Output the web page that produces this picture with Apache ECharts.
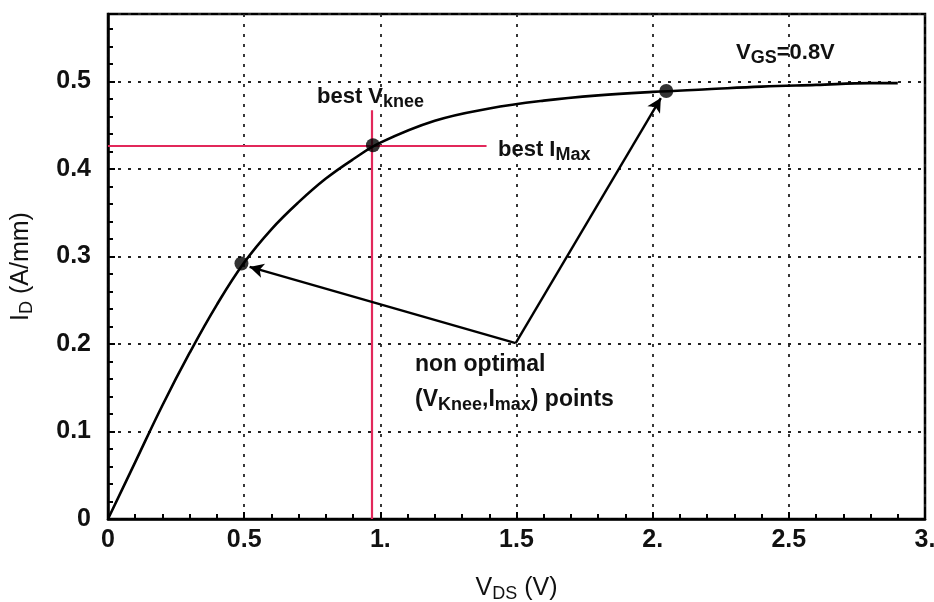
<!DOCTYPE html>
<html>
<head>
<meta charset="utf-8">
<script src="https://cdn.jsdelivr.net/npm/echarts@6/dist/echarts.min.js"></script>
<style>html,body{margin:0;padding:0;background:#fff;}#c{width:934px;height:602px;}</style>
</head>
<body>
<div id="c"></div>
<script>
// ---- data ----
var vds = [0, 0.1, 0.2, 0.3, 0.4, 0.5, 0.6, 0.7, 0.8, 0.9, 1.0, 1.2, 1.4, 1.6, 1.8, 2.0, 2.2, 2.4, 2.6, 2.8, 2.9];
var idCurve = [0, 0.065, 0.13, 0.19, 0.245, 0.293, 0.331, 0.362, 0.389, 0.411, 0.430, 0.455, 0.469, 0.478, 0.484, 0.488, 0.491, 0.494, 0.496, 0.498, 0.498];
var pointX = [0.49, 0.973, 2.05];
var pointY = [0.292, 0.427, 0.489];
var bestV = 0.97, bestVTop = 0.467;
var bestI = 0.427, bestIEnd = 1.39;
var arrowFrom = [1.497, 0.201];
var arrowTo = [[0.52, 0.288], [2.03, 0.481]];
var xTickLabels = {'0': '0', '0.5': '0.5', '1': '1.', '1.5': '1.5', '2': '2.', '2.5': '2.5', '3': '3.'};
var yTickLabels = ['0', '0.1', '0.2', '0.3', '0.4', '0.5'];

var chart = echarts.init(document.getElementById('c'));
var FF = '"Liberation Sans", Arial, sans-serif';
var gridLine = {show: true, lineStyle: {color: '#222', width: 1.8, type: [3, 7]}};

var curveData = vds.map(function (v, i) { return [v, idCurve[i]]; });
var ptsData = pointX.map(function (v, i) { return [v, pointY[i]]; });

function annRich(main, sub) {
  return {
    m: {fontFamily: FF, fontWeight: 'bold', fontSize: main, fill: '#111', lineHeight: 28, verticalAlign: 'middle'},
    s: {fontFamily: FF, fontWeight: 'bold', fontSize: sub, fill: '#111', lineHeight: 28, verticalAlign: 'bottom', padding: [9, 0, 0, 0]}
  };
}

chart.setOption({
  animation: false,
  backgroundColor: '#fff',
  grid: {left: 108, right: 9, top: 14, bottom: 83, outerBoundsMode: 'none', containLabel: false,
    show: true, borderColor: '#000', borderWidth: 2.5, backgroundColor: 'transparent'},
  xAxis: {
    type: 'value', min: 0, max: 3, interval: 0.5,
    axisLine: {lineStyle: {color: '#000', width: 2.5}},
    axisTick: {inside: true, length: 7, lineStyle: {color: '#000', width: 2}},
    minorTick: {show: true, splitNumber: 5, length: 5, lineStyle: {color: '#000', width: 2}},
    splitLine: gridLine,
    axisLabel: {fontFamily: FF, fontWeight: 'bold', fontSize: 25, color: '#111', margin: 9,
      formatter: function (v) { var k = String(+v.toFixed(1)); return xTickLabels[k] !== undefined ? xTickLabels[k] : k; }},
    name: '{m|V}{s|DS}{m| (V)}', nameLocation: 'middle', nameGap: 54,
    nameTextStyle: {rich: {
      m: {fontFamily: FF, fontSize: 25, color: '#111', lineHeight: 30, verticalAlign: 'middle'},
      s: {fontFamily: FF, fontSize: 18, color: '#111', lineHeight: 30, verticalAlign: 'bottom', padding: [10, 0, 0, 0]}
    }}
  },
  yAxis: {
    type: 'value', min: 0, max: 0.577, interval: 0.1,
    axisLine: {lineStyle: {color: '#000', width: 2.5}},
    axisTick: {inside: true, length: 7, lineStyle: {color: '#000', width: 2}},
    minorTick: {show: true, splitNumber: 5, length: 5, lineStyle: {color: '#000', width: 2}},
    splitLine: gridLine,
    axisLabel: {fontFamily: FF, fontWeight: 'bold', fontSize: 25, color: '#111', margin: 17,
      formatter: function (v) { var i = Math.round(v * 10); return yTickLabels[i] !== undefined ? yTickLabels[i] : ''; }},
    name: '{m|I}{s|D}{m| (A/mm)}', nameLocation: 'middle', nameGap: 72, nameRotate: 90,
    nameTextStyle: {rich: {
      m: {fontFamily: FF, fontSize: 25, color: '#111', lineHeight: 30, verticalAlign: 'middle'},
      s: {fontFamily: FF, fontSize: 18, color: '#111', lineHeight: 30, verticalAlign: 'bottom', padding: [10, 0, 0, 0]}
    }}
  },
  series: [
    {
      type: 'line', data: curveData, smooth: 0.4, showSymbol: false, z: 5,
      lineStyle: {color: '#000', width: 2.6},
      markLine: {
        silent: true, symbol: ['none', 'none'], label: {show: false},
        lineStyle: {color: '#e2285a', width: 2.2, type: 'solid'},
        data: [
          [{coord: [0, bestI]}, {coord: [bestIEnd, bestI]}],
          [{coord: [bestV, 0]}, {coord: [bestV, bestVTop]}]
        ]
      }
    },
    {
      type: 'line', data: [], z: 6,
      markLine: {
        silent: true, symbol: ['none', 'arrow'], symbolSize: [11, 14], label: {show: false},
        lineStyle: {color: '#000', width: 2.4, type: 'solid'},
        data: arrowTo.map(function (t) { return [{coord: arrowFrom}, {coord: t}]; })
      }
    },
    {
      type: 'scatter', data: ptsData, symbolSize: 14, z: 7,
      itemStyle: {color: '#000'}
    }
  ],
  graphic: [
    {type: 'text', left: 317, top: 84, z: 10, style: {text: '{m|best V}{s|knee}', rich: annRich(22, 18)}},
    {type: 'text', left: 498, top: 137, z: 10, style: {text: '{m|best I}{s|Max}', rich: annRich(22, 18)}},
    {type: 'text', left: 736, top: 40, z: 10, style: {text: '{m|V}{s|GS}{m|=0.8V}', rich: annRich(22, 18)}},
    {type: 'text', left: 415, top: 353, z: 10, style: {text: 'non optimal', fontFamily: FF, fontWeight: 'bold', fontSize: 23, fill: '#111'}},
    {type: 'text', left: 415, top: 387, z: 10, style: {text: '{m|(V}{s|Knee}{m|,I}{s|max}{m|) points}', rich: annRich(23, 18)}}
  ]
});
</script>
</body>
</html>
